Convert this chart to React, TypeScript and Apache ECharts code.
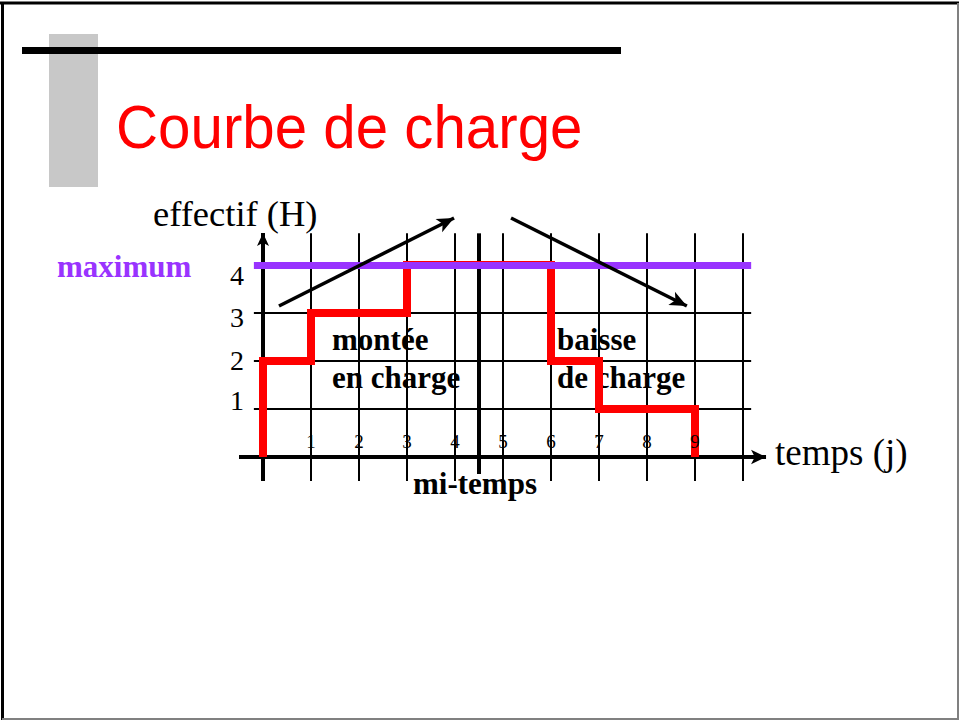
import React, { useEffect, useRef } from "react";
import * as echarts from "echarts";

// ---- texts ----
const titre = "Courbe de charge";
const titreAxeY = "effectif (H)";
const titreAxeX = "temps (j)";
const etiquetteMaximum = "maximum";
const etiquetteMiTemps = "mi-temps";
const etiquetteMontee = ["montée", "en charge"];
const etiquetteBaisse = ["baisse", "de charge"];

// ---- data ----
const jours = [1, 2, 3, 4, 5, 6, 7, 8, 9]; // x tick labels
const niveaux = [1, 2, 3, 4]; // y tick labels
const effectifParJour = [2, 3, 3, 4, 4, 4, 2, 1, 1]; // staff during day i (interval [i-1, i])
const effectifMaximum = 4;
const miTemps = 4.5;
const colonnesGrille = [1, 2, 3, 4, 5, 6, 7, 8, 9, 10];
const lignesGrille = [1, 2, 3];
const flecheMontee = [[0.333, 3.146], [3.98, 4.98]];
const flecheBaisse = [[5.167, 4.979], [8.83, 3.146]];

// extents of the drawn lines (data units)
const grilleY = [-0.5, 4.66];
const grilleX = [-0.19, 10.17];
const axeX = [-0.5, 10.48];
const axeY = [-0.5, 4.667];
const miTempsY = [-0.354, 4.66];

const SERIF = '"Liberation Serif", "Times New Roman", serif';
const SANS = '"Liberation Sans", Arial, sans-serif';

function buildOption() {
  const pointsCharge: number[][] = [[0, 0]];
  effectifParJour.forEach((e, i) => {
    pointsCharge.push([i, e], [i + 1, e]);
  });
  pointsCharge.push([effectifParJour.length, 0]);

  const lignesNoires: any[] = [];
  colonnesGrille.forEach((x) => {
    lignesNoires.push([{ coord: [x, grilleY[0]] }, { coord: [x, grilleY[1]] }]);
  });
  lignesGrille.forEach((y) => {
    lignesNoires.push([{ coord: [grilleX[0], y] }, { coord: [grilleX[1], y] }]);
  });

  const decalage: Record<number, number[]> = {
    4: [20, 0, 0, 0],
    3: [9, 0, 0, 0],
    2: [0, 0, 2, 0],
    1: [0, 0, 18, 0],
  };
  const rich: any = {};
  niveaux.forEach((n) => {
    rich["n" + n] = {
      fontFamily: SERIF,
      fontSize: 28,
      color: "#000",
      padding: decalage[n] || 0,
    };
  });

  const texte = (
    txt: string,
    x: number,
    yBase: number,
    size: number,
    opts: { bold?: boolean; fill?: string; family?: string; scaleX?: number; ratio?: number } = {}
  ) => ({
    type: "text",
    x,
    y: yBase - (opts.ratio ?? 0.3375) * size,
    scaleX: opts.scaleX ?? 1,
    z: 0,
    style: {
      text: txt,
      x: 0,
      y: 0,
      font: `${opts.bold ? "bold " : ""}${size}px ${opts.family ?? SERIF}`,
      fill: opts.fill ?? "#000",
      textAlign: "left",
      align: "left",
      textVerticalAlign: "middle",
      verticalAlign: "middle",
    },
  });

  const cadre = (x1: number, y1: number, x2: number, y2: number, c: string, w: number) => ({
    type: "line",
    z: 0,
    shape: { x1, y1, x2, y2 },
    style: { stroke: c, lineWidth: w },
  });

  return {
    animation: false,
    backgroundColor: "#ffffff",
    grid: {
      left: 215,
      right: 168,
      top: 193,
      bottom: 215,
      containLabel: false,
      outerBoundsMode: "none",
    },
    xAxis: {
      type: "value",
      min: -1,
      max: 11,
      offset: -48,
      z: 10,
      axisLine: { show: false, onZero: false },
      axisTick: { show: false },
      splitLine: { show: false },
      axisLabel: {
        show: true,
        inside: true,
        margin: 6,
        customValues: jours,
        fontFamily: SERIF,
        fontSize: 19,
        color: "#000",
        formatter: (v: number) => String(v),
      },
    },
    yAxis: {
      type: "value",
      min: -1,
      max: 5.5,
      offset: -48,
      z: 10,
      axisLine: { show: false, onZero: false },
      axisTick: { show: false },
      splitLine: { show: false },
      axisLabel: {
        show: true,
        margin: 19,
        customValues: niveaux,
        fontFamily: SERIF,
        fontSize: 28,
        color: "#000",
        formatter: (v: number) => `{n${v}|${v}}`,
        rich,
      },
    },
    series: [
      {
        name: "grille",
        type: "line",
        data: [],
        silent: true,
        markLine: {
          z: 1,
          silent: true,
          animation: false,
          symbol: ["none", "none"],
          label: { show: false },
          emphasis: { disabled: true },
          lineStyle: { color: "#000", width: 2, type: "solid" },
          data: lignesNoires,
        },
      },
      {
        name: "axes",
        type: "line",
        data: [],
        silent: true,
        markLine: {
          z: 2,
          silent: true,
          animation: false,
          symbol: ["none", "arrow"],
          label: { show: false },
          emphasis: { disabled: true },
          lineStyle: { color: "#000", width: 4, type: "solid" },
          data: [
            [
              { coord: [axeX[0], 0], symbol: "none" },
              { coord: [axeX[1], 0], symbol: "arrow", symbolSize: [11, 15] },
            ],
            [
              { coord: [0, axeY[0]], symbol: "none" },
              { coord: [0, axeY[1]], symbol: "arrow", symbolSize: [9, 13] },
            ],
            [
              { coord: [miTemps, miTempsY[0]], symbol: "none" },
              { coord: [miTemps, miTempsY[1]], symbol: "none" },
            ],
          ],
        },
      },
      {
        name: "charge",
        type: "line",
        z: 3,
        clip: false,
        silent: true,
        symbol: "none",
        showSymbol: false,
        data: pointsCharge,
        lineStyle: { color: "#ff0000", width: 8, join: "miter", cap: "butt" },
      },
      {
        name: "maximum",
        type: "line",
        data: [],
        silent: true,
        markLine: {
          z: 4,
          silent: true,
          animation: false,
          symbol: ["none", "none"],
          label: { show: false },
          emphasis: { disabled: true },
          lineStyle: { color: "#9933ff", width: 7, type: "solid" },
          data: [[{ coord: [grilleX[0], effectifMaximum] }, { coord: [grilleX[1], effectifMaximum] }]],
        },
      },
      {
        name: "tendances",
        type: "line",
        data: [],
        silent: true,
        markLine: {
          z: 5,
          silent: true,
          animation: false,
          symbol: ["none", "arrow"],
          label: { show: false },
          emphasis: { disabled: true },
          lineStyle: { color: "#000", width: 3.5, type: "solid" },
          data: [
            [
              { coord: flecheMontee[0], symbol: "none" },
              { coord: flecheMontee[1], symbol: "arrow", symbolSize: [11, 17] },
            ],
            [
              { coord: flecheBaisse[0], symbol: "none" },
              { coord: flecheBaisse[1], symbol: "arrow", symbolSize: [11, 17] },
            ],
          ],
        },
      },
    ],
    graphic: [
      // slide frame
      cadre(0, 3, 959, 3, "#000", 3),
      cadre(2.5, 2, 2.5, 720, "#000", 3),
      cadre(958, 3, 958, 720, "#808080", 2),
      cadre(2, 719, 959, 719, "#808080", 2),
      // title decoration
      { type: "rect", z: 0, shape: { x: 49, y: 34, width: 49, height: 153 }, style: { fill: "#c8c8c8" } },
      { type: "rect", z: 1, shape: { x: 22, y: 47, width: 599, height: 7 }, style: { fill: "#000" } },
      texte(titre, 116, 148, 62, { family: SANS, fill: "#ff0000", scaleX: 0.94, ratio: 0.3465 }),
      // axis titles
      texte(titreAxeY, 153, 226, 36.5),
      texte(titreAxeX, 775, 465, 37),
      // annotations
      texte(etiquetteMaximum, 57, 277, 31, { bold: true, fill: "#9933ff" }),
      texte(etiquetteMontee[0], 332, 350, 31, { bold: true }),
      texte(etiquetteMontee[1], 332, 388, 31, { bold: true }),
      texte(etiquetteBaisse[0], 557, 350, 31, { bold: true }),
      texte(etiquetteBaisse[1], 557, 388, 31, { bold: true }),
      texte(etiquetteMiTemps, 413, 494, 31, { bold: true }),
    ],
  };
}

export default function App() {
  const ref = useRef<HTMLDivElement>(null);
  useEffect(() => {
    if (!ref.current) return;
    const chart = echarts.init(ref.current, null, { renderer: "svg" });
    chart.setOption(buildOption() as any);
    return () => {
      chart.dispose();
    };
  }, []);
  return (
    <div
      ref={ref}
      style={{ position: "fixed", left: 0, top: 0, width: 959, height: 720, background: "#fff" }}
    />
  );
}
